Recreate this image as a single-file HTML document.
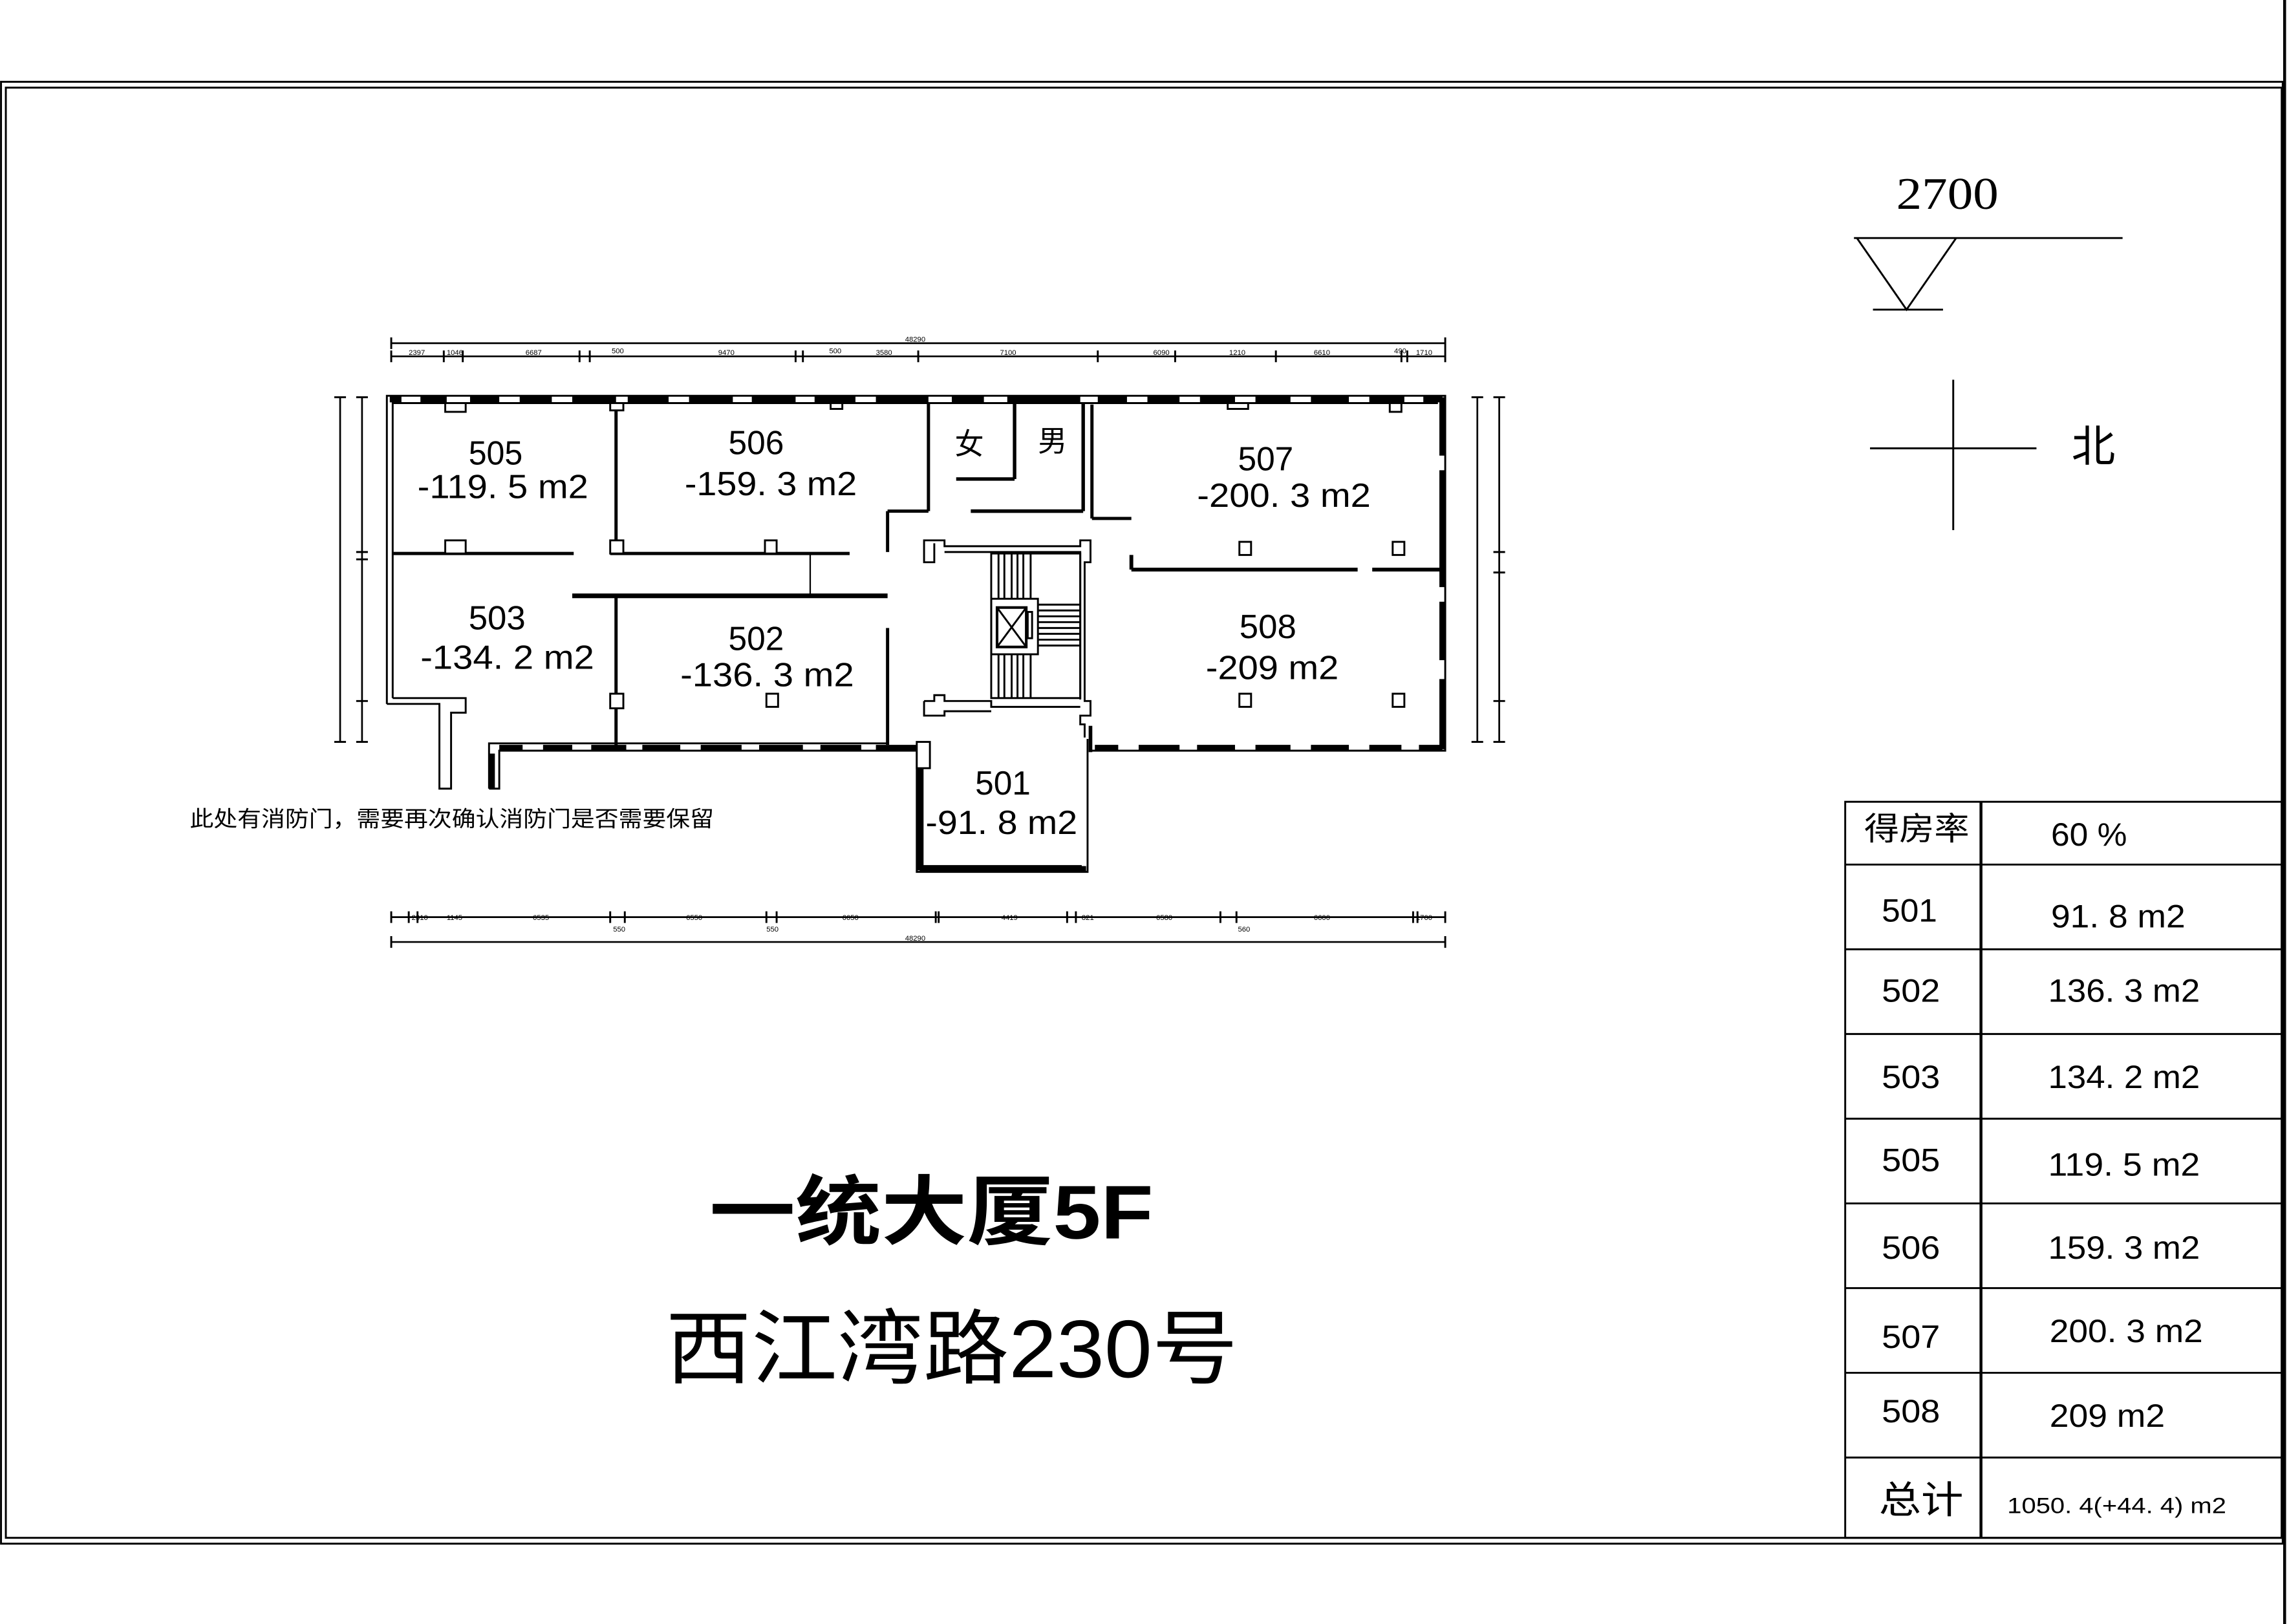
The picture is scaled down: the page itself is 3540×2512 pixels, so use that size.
<!DOCTYPE html>
<html><head><meta charset="utf-8"><style>
html,body{margin:0;padding:0;background:#fff;}
svg{display:block;}
text{font-family:"Liberation Sans","Noto Sans CJK SC",sans-serif;fill:#000;}
</style></head><body>
<svg width="3540" height="2512" viewBox="0 0 1568 1112" preserveAspectRatio="none" xmlns="http://www.w3.org/2000/svg">
<rect width="1568" height="1112" fill="#fff"/>
<g fill="none" stroke="#000" stroke-width="1.3">
<rect x="0.7" y="56" width="1563" height="1001"/>
<rect x="4" y="60" width="1559" height="993"/>
<line x1="1565" y1="0" x2="1565" y2="1112" stroke-width="2"/>
</g>
<text x="1299" y="143" font-size="31" style="font-family:'Liberation Serif',serif" textLength="70" lengthAdjust="spacingAndGlyphs">2700</text>
<g stroke="#000" stroke-width="1.3" fill="none">
<line x1="1270" y1="163" x2="1454" y2="163"/>
<polyline points="1272,163 1306,212 1340,163"/>
<line x1="1283" y1="212" x2="1331" y2="212"/>
<line x1="1281" y1="307" x2="1395" y2="307"/>
<line x1="1338" y1="260" x2="1338" y2="363"/>
</g>
<text x="1419" y="316" font-size="30">北</text>
<g stroke="#000" stroke-width="1.3" fill="none">
<rect x="1264" y="549" width="299" height="504"/>
<line x1="1357" y1="549" x2="1357" y2="1053" stroke-width="2"/>
<line x1="1264" y1="592" x2="1563" y2="592"/>
<line x1="1264" y1="650" x2="1563" y2="650"/>
<line x1="1264" y1="708" x2="1563" y2="708"/>
<line x1="1264" y1="766" x2="1563" y2="766"/>
<line x1="1264" y1="824" x2="1563" y2="824"/>
<line x1="1264" y1="882" x2="1563" y2="882"/>
<line x1="1264" y1="940" x2="1563" y2="940"/>
<line x1="1264" y1="998" x2="1563" y2="998"/>
</g>
<g font-size="22" lengthAdjust="spacingAndGlyphs">
<text x="1277" y="575" textLength="72" lengthAdjust="spacingAndGlyphs">得房率</text>
<text x="1405" y="579" textLength="52" lengthAdjust="spacingAndGlyphs">60 %</text>
<text x="1289" y="631" textLength="38" lengthAdjust="spacingAndGlyphs">501</text><text x="1405" y="635" textLength="92" lengthAdjust="spacingAndGlyphs">91. 8 m2</text>
<text x="1289" y="686" textLength="40" lengthAdjust="spacingAndGlyphs">502</text><text x="1403" y="686" textLength="104" lengthAdjust="spacingAndGlyphs">136. 3 m2</text>
<text x="1289" y="745" textLength="40" lengthAdjust="spacingAndGlyphs">503</text><text x="1403" y="745" textLength="104" lengthAdjust="spacingAndGlyphs">134. 2 m2</text>
<text x="1289" y="802" textLength="40" lengthAdjust="spacingAndGlyphs">505</text><text x="1403" y="805" textLength="104" lengthAdjust="spacingAndGlyphs">119. 5 m2</text>
<text x="1289" y="862" textLength="40" lengthAdjust="spacingAndGlyphs">506</text><text x="1403" y="862" textLength="104" lengthAdjust="spacingAndGlyphs">159. 3 m2</text>
<text x="1289" y="923" textLength="40" lengthAdjust="spacingAndGlyphs">507</text><text x="1404" y="919" textLength="105" lengthAdjust="spacingAndGlyphs">200. 3 m2</text>
<text x="1289" y="974" textLength="40" lengthAdjust="spacingAndGlyphs">508</text><text x="1404" y="977" textLength="79" lengthAdjust="spacingAndGlyphs">209 m2</text>
<text x="1287" y="1036" font-size="26" textLength="58" lengthAdjust="spacingAndGlyphs">总计</text>
<text x="1375" y="1036" font-size="15" textLength="150" lengthAdjust="spacingAndGlyphs">1050. 4(+44. 4) m2</text>
</g>
<text x="486" y="848" font-size="52" font-weight="bold" textLength="304" lengthAdjust="spacingAndGlyphs">一统大厦5F</text>
<text x="456" y="943" font-size="56" textLength="392" lengthAdjust="spacingAndGlyphs">西江湾路230号</text>
<text x="130" y="566" font-size="15" textLength="359" lengthAdjust="spacingAndGlyphs">此处有消防门，需要再次确认消防门是否需要保留</text>
<g stroke="#000" stroke-width="1.2">
<line x1="268" y1="235" x2="990" y2="235"/>
<line x1="268" y1="244" x2="990" y2="244"/>
<line x1="268" y1="628" x2="990" y2="628"/>
<line x1="268" y1="645" x2="990" y2="645"/>
<line x1="233" y1="272" x2="233" y2="508"/>
<line x1="248" y1="272" x2="248" y2="508"/>
<line x1="1012" y1="272" x2="1012" y2="508"/>
<line x1="1027" y1="272" x2="1027" y2="508"/>
</g>
<g stroke="#000" stroke-width="1.3">
<path d="M268 231v8M268 240v8M304 240v8M317 240v8M397 240v8M404 240v8M545 240v8M550 240v8M629 240v8M752 240v8M805 240v8M874 240v8M960 240v8M964 240v8M990 231v17"/>
<path d="M268 624v8M280 624v8M286 624v8M418 624v8M428 624v8M525 624v8M532 624v8M641 624v8M643 624v8M731 624v8M737 624v8M836 624v8M847 624v8M968 624v8M971 624v8M990 624v8M268 641v8M990 641v8"/>
<path d="M229 272h8M229 508h8M244 272h8M244 378h8M244 383h8M244 480h8M244 508h8M1008 272h8M1008 508h8M1023 272h8M1023 378h8M1023 392h8M1023 480h8M1023 508h8"/>
</g>
<g font-size="5" fill="#000">
<text x="620" y="234">48290</text><text x="280" y="243">2397</text><text x="306" y="243">1046</text><text x="360" y="243">6687</text><text x="419" y="242">500</text><text x="492" y="243">9470</text><text x="568" y="242">500</text><text x="600" y="243">3580</text><text x="685" y="243">7100</text><text x="790" y="243">6090</text><text x="842" y="243">1210</text><text x="900" y="243">6610</text><text x="955" y="242">490</text><text x="970" y="243">1710</text>
<text x="282" y="630">2310</text><text x="306" y="630">1145</text><text x="365" y="630">6535</text><text x="470" y="630">6550</text><text x="577" y="630">6650</text><text x="686" y="630">4419</text><text x="741" y="630">821</text><text x="792" y="630">6580</text><text x="900" y="630">6600</text><text x="970" y="630">1700</text>
<text x="420" y="638">550</text><text x="525" y="638">550</text><text x="848" y="638">560</text><text x="620" y="644">48290</text>
</g>
<g fill="none" stroke="#000" stroke-width="1.3">
<polyline points="265,482 265,271 990,271 990,514 748,514"/>
<polyline points="269,478 269,276 985,276"/>
<polyline points="265,482 301,482 301,540 309,540 309,488 319,488 319,478 269,478"/>
<polyline points="335,540 342,540 342,514 628,514"/>
<polyline points="335,540 335,509 608,509"/>
<polyline points="628,512 628,597 745,597 745,506"/>
<polyline points="632,512 632,593 741,593"/>
</g>
<g stroke="#000" stroke-width="4">
<path d="M267 273.5h8M288 273.5h18M322 273.5h20M356 273.5h22M392 273.5h30M430 273.5h28M472 273.5h30M515 273.5h30M558 273.5h28M600 273.5h36M652 273.5h22M690 273.5h50M752 273.5h20M786 273.5h22M822 273.5h24M860 273.5h24M898 273.5h26M938 273.5h24M975 273.5h13"/>
<path d="M988 272v40M988 322v80M988 412v40M988 465v48"/>
<path d="M342 512h16M372 512h20M405 512h24M440 512h26M480 512h28M520 512h30M562 512h28M600 512h28"/>
<path d="M750 512h16M780 512h28M820 512h26M860 512h24M898 512h26M938 512h22M972 512h16"/>
<path d="M630 512v84M630 595h114"/>
<path d="M337 516v24"/>
</g>
<g stroke="#000" fill="none">
<path d="M422 276v103M422 408v103" stroke-width="2.2"/>
<path d="M269 379h124M418 379h164" stroke-width="2.2"/>
<path d="M392 408h216" stroke-width="3.2"/>
<path d="M608 350v28M608 350h28M608 430v80" stroke-width="2.2"/>
<path d="M636 276v74" stroke-width="2.2"/>
<path d="M655 328h40M695 276v52M665 350h77M742 276v74" stroke-width="2.4"/>
<path d="M748 277v78M748 355h27" stroke-width="2.2"/>
<path d="M775 380v10M775 390h155M940 390h48" stroke-width="2.6"/>
<path d="M555 380v28" stroke-width="1"/>
<path d="M747 497v18" stroke-width="2.5"/>
</g>
<g fill="none" stroke="#000" stroke-width="1.3">
<polyline points="640,372 640,385 633,385 633,370 647,370 647,374 740,374 740,370 747,370 747,385 743,385 743,480 747,480 747,490 740,490 740,496 743,496 743,505"/>
<polyline points="647,378 740,378 740,479"/>
<polyline points="633,480 640,480 640,476 647,476 647,480 679,480 679,484 740,484"/>
<polyline points="633,480 633,490 647,490 647,487 679,487"/>
<rect x="679" y="379" width="61" height="99"/>
<rect x="679" y="410" width="32" height="38"/>
<rect x="683" y="416" width="20" height="27" stroke-width="1.8"/>
<path d="M683 416l20 27M703 416l-20 27"/>
<rect x="704" y="419" width="3" height="18"/>
<path d="M684 379v31M688 379v31M693 379v31M697 379v31M701 379v31M706 379v31M684 448v30M688 448v30M693 448v30M697 448v30M701 448v30M706 448v30"/>
<path d="M711 414h29M711 418h29M711 422h29M711 426h29M711 430h29M711 434h29M711 438h29M711 442h29"/>
</g>
<g fill="#fff" stroke="#000" stroke-width="1.3">
<rect x="305" y="370" width="14" height="9"/>
<rect x="418" y="370" width="9" height="9"/>
<rect x="524" y="370" width="8" height="9"/>
<rect x="849" y="371" width="8" height="9"/>
<rect x="954" y="371" width="8" height="9"/>
<rect x="418" y="475" width="9" height="10"/>
<rect x="525" y="475" width="8" height="9"/>
<rect x="849" y="475" width="8" height="9"/>
<rect x="954" y="475" width="8" height="9"/>
<rect x="305" y="276" width="14" height="6"/>
<rect x="418" y="276" width="9" height="5"/>
<rect x="569" y="276" width="8" height="4"/>
<rect x="841" y="276" width="14" height="4"/>
<rect x="952" y="276" width="8" height="6"/>
<rect x="628" y="508" width="9" height="18"/>
</g>
<g font-size="23">
<text x="321" y="318" textLength="37" lengthAdjust="spacingAndGlyphs">505</text><text x="286" y="341" textLength="117" lengthAdjust="spacingAndGlyphs">-119. 5 m2</text>
<text x="499" y="311" textLength="38" lengthAdjust="spacingAndGlyphs">506</text><text x="469" y="339" textLength="118" lengthAdjust="spacingAndGlyphs">-159. 3 m2</text>
<text x="848" y="322" textLength="38" lengthAdjust="spacingAndGlyphs">507</text><text x="820" y="347" textLength="119" lengthAdjust="spacingAndGlyphs">-200. 3 m2</text>
<text x="321" y="431" textLength="39" lengthAdjust="spacingAndGlyphs">503</text><text x="288" y="458" textLength="119" lengthAdjust="spacingAndGlyphs">-134. 2 m2</text>
<text x="499" y="445" textLength="38" lengthAdjust="spacingAndGlyphs">502</text><text x="466" y="470" textLength="119" lengthAdjust="spacingAndGlyphs">-136. 3 m2</text>
<text x="849" y="437" textLength="39" lengthAdjust="spacingAndGlyphs">508</text><text x="826" y="465" textLength="91" lengthAdjust="spacingAndGlyphs">-209 m2</text>
<text x="668" y="544" textLength="38" lengthAdjust="spacingAndGlyphs">501</text><text x="634" y="571" textLength="104" lengthAdjust="spacingAndGlyphs">-91. 8 m2</text>
<text x="654" y="311" font-size="20">女</text><text x="711" y="309" font-size="20">男</text>
</g>
</svg>
</body></html>
